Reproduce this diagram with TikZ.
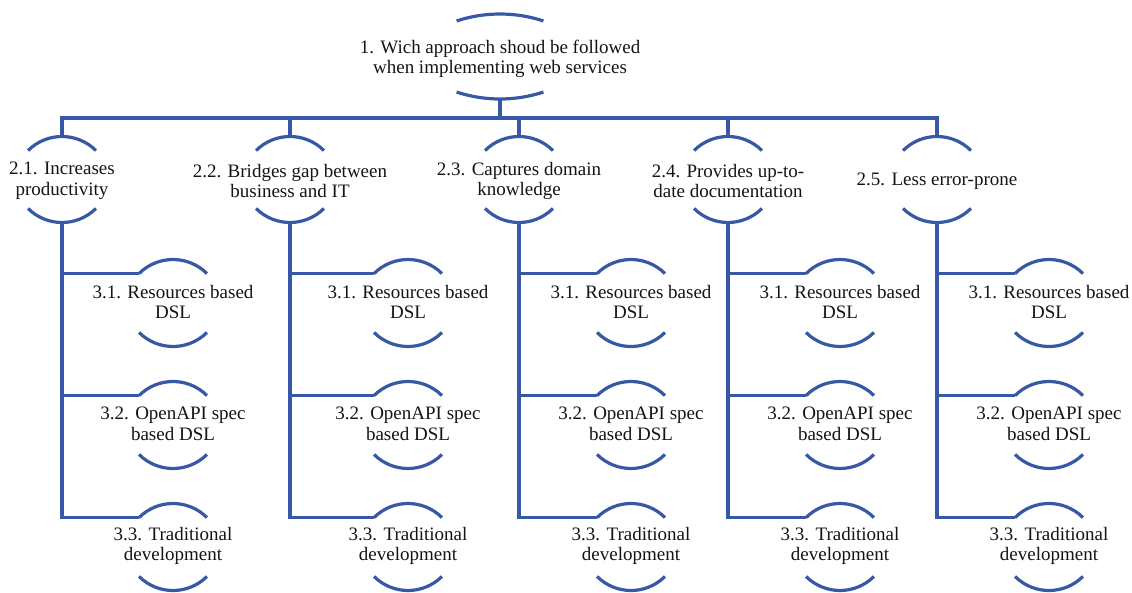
\documentclass[tikz,border=0pt]{standalone}
\usepackage{fontspec}
\setmainfont{Liberation Serif}
\definecolor{linkblue}{RGB}{55,88,164}
\definecolor{inkgray}{RGB}{20,20,20}
\tikzset{
  lbl/.style={align=center, inner sep=0pt, text=inkgray,
    font=\fontsize{19}{20.5}\selectfont},
  arcline/.style={draw=linkblue, line width=3.2pt},
  link/.style={draw=linkblue, line width=3.2pt},
}
% \bubble{name}{x}{y}{half height}{arc radius}{arc half angle}{text shift}{text}
\newcommand\bubble[8]{%
  \node[lbl] (#1) at (#2,#3+#7) {#8};
  \pgfmathsetmacro\bubh{#5*sin(#6)}%
  \pgfmathsetmacro\bubs{#5*(1-cos(#6))}%
  \coordinate (#1-t) at (#2,#3-#4);
  \coordinate (#1-b) at (#2,#3+#4);
  \coordinate (#1-tl) at (#2-\bubh,#3-#4+\bubs);
  \coordinate (#1-bl) at (#2-\bubh,#3+#4-\bubs);
  \draw[arcline] (#1-tl) arc[start angle={270-#6}, end angle={270+#6}, radius=#5];
  \draw[arcline] (#1-bl) arc[start angle={90+#6}, end angle={90-#6}, radius=#5];
}
\begin{document}
\begin{tikzpicture}[x=1pt, y=-1pt]
\useasboundingbox (0,0) rectangle (1132,592);

% root question
\bubble{q}{500}{56.5}{42.5}{139}{18.2}{2.5}{1. Wich approach shoud be followed\\when implementing web services}

% criteria
\bubble{c1}{62}{179.5}{43}{48}{45}{1.5}{2.1. Increases\\productivity}
\bubble{c2}{290}{179.5}{43}{48}{45}{1.5}{2.2. Bridges gap between\\business and IT}
\bubble{c3}{519}{179.5}{43}{48}{45}{1.5}{2.3. Captures domain\\knowledge}
\bubble{c4}{728}{179.5}{43}{48}{45}{1.5}{2.4. Provides up-to-\\date documentation}
\bubble{c5}{937}{179.5}{43}{48}{45}{1.5}{2.5. Less error-prone}

% alternatives under each criterion
\foreach \c/\x in {c1/173, c2/408, c3/631, c4/840, c5/1049}{
  \bubble{\c a}{\x}{303}{43.5}{48}{45}{-1}{3.1. Resources based\\DSL}
  \bubble{\c b}{\x}{425}{43.5}{48}{45}{-1}{3.2. OpenAPI spec\\based DSL}
  \bubble{\c c}{\x}{547}{43.5}{48}{45}{-1}{3.3. Traditional\\development}
}

% connectors
\coordinate (bus) at ([yshift=-19pt]q-b);
\draw[link] (q-b) -- (bus);
\foreach \c in {c1,c2,c3,c4,c5}{
  \draw[link] (bus) -| (\c-t);
  \draw[link] (\c-b) |- (\c a-tl);
  \draw[link] (\c-b) |- (\c b-tl);
  \draw[link] (\c-b) |- (\c c-tl);
}
\end{tikzpicture}
\end{document}
